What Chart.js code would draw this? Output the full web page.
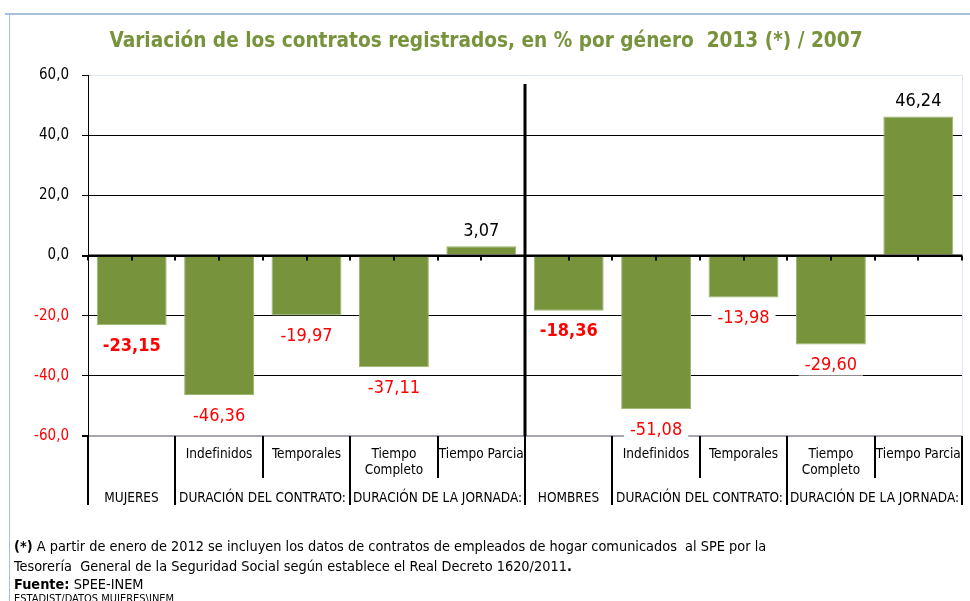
<!DOCTYPE html>
<html lang="es">
<head>
<meta charset="utf-8">
<title>Variación de los contratos registrados</title>
<script src="https://cdn.jsdelivr.net/npm/chart.js@4.4.1/dist/chart.umd.min.js"></script>
<style>
    html, body { margin: 0; padding: 0; background: #fff; }
    body {
        width: 970px; height: 601px; position: relative; overflow: hidden;
        font-family: 'DejaVu Sans Condensed', 'DejaVu Sans', sans-serif;
    }
    #topRule { position: absolute; left: 5px; right: 0; top: 13px; height: 2px; background: #A8BFDB; }
    #leftRule { position: absolute; left: 9px; top: 13px; bottom: 0; width: 1px; background: #A8BFDB; }
    #chart { position: absolute; left: 0; top: 0; }
    #notes { position: absolute; left: 14px; top: 536px; font-size: 14.4px; line-height: 20px; color: #000; white-space: nowrap; }
    #notes .src { line-height: 17px; }
    #notes .path { font-size: 11px; line-height: 12px; }
</style>
</head>
<body>
<div id="topRule"></div>
<div id="leftRule"></div>
<canvas id="chart" width="970" height="601"></canvas>
<div id="notes">
    <div><b>(*)</b> A partir de enero de 2012 se incluyen los datos de contratos de empleados de hogar comunicados&nbsp; al SPE por la</div>
    <div>Tesorería&nbsp; General de la Seguridad Social según establece el Real Decreto 1620/2011<b>.</b></div>
    <div class="src"><b>Fuente:</b> SPEE-INEM</div>
    <div class="path">ESTADIST/DATOS MUJERES\INEM</div>
</div>
<script>
// Contract variation 2013 vs 2007, by gender
const categories = ['MUJERES', 'Indefinidos', 'Temporales', 'Tiempo Completo', 'Tiempo Parcia',
                    'HOMBRES', 'Indefinidos', 'Temporales', 'Tiempo Completo', 'Tiempo Parcia'];
const subLabels = ['', 'Indefinidos', 'Temporales', ['Tiempo', 'Completo'], 'Tiempo Parcia',
                   '', 'Indefinidos', 'Temporales', ['Tiempo', 'Completo'], 'Tiempo Parcia'];
const groupNames = ['MUJERES', 'DURACIÓN DEL CONTRATO:', 'DURACIÓN DE LA JORNADA:',
                    'HOMBRES', 'DURACIÓN DEL CONTRATO:', 'DURACIÓN DE LA JORNADA:'];
const groupSpans = [1, 2, 2, 1, 2, 2];
const variation = [-23.15, -46.36, -19.97, -37.11, 3.07, -18.36, -51.08, -13.98, -29.60, 46.24];
const totalsIdx = [0, 5];
const yTicks = [-60, -40, -20, 0, 20, 40, 60];

const FONT = "'DejaVu Sans Condensed', 'DejaVu Sans', sans-serif";
const GREEN = '#77933C';
const RED = '#FF0000';

const fmt = (v, d) => v.toFixed(d).replace('.', ',');

const decorPlugin = {
    id: 'decor',
    afterDatasetsDraw(chart) {
        const { ctx, chartArea: a, scales: { x, y } } = chart;
        const y0 = y.getPixelForValue(0);
        ctx.save();

        // plot border on the right
        ctx.strokeStyle = '#DCE6F2';
        ctx.lineWidth = 1;
        ctx.beginPath();
        ctx.moveTo(a.right + 0.5, a.top);
        ctx.lineTo(a.right + 0.5, a.bottom);
        ctx.stroke();

        // zero axis with ticks at centers and boundaries
        ctx.strokeStyle = '#000';
        ctx.lineWidth = 2;
        ctx.beginPath();
        ctx.moveTo(a.left, y0);
        ctx.lineTo(a.right, y0);
        ctx.stroke();
        for (let k = 0; k <= categories.length * 2; k++) {
            const px = Math.round(x.getPixelForValue(k / 2 - 0.5));
            ctx.beginPath();
            ctx.moveTo(px, y0);
            ctx.lineTo(px, y0 + 5);
            ctx.stroke();
        }

        // value labels with white boxes
        const meta = chart.getDatasetMeta(0);
        ctx.textAlign = 'center';
        ctx.textBaseline = 'middle';
        meta.data.forEach((bar, i) => {
            const v = variation[i];
            const bold = totalsIdx.includes(i);
            ctx.font = (bold ? 'bold ' : '') + '18px ' + FONT;
            const txt = fmt(v, 2);
            const w = ctx.measureText(txt).width;
            const cy = v < 0 ? bar.y + 20 : bar.y - 16;
            ctx.fillStyle = '#fff';
            ctx.fillRect(bar.x - w / 2 - 6, cy - 11, w + 12, 22);
            ctx.fillStyle = v < 0 ? RED : '#000';
            ctx.fillText(txt, bar.x, cy + 1);
        });
        ctx.restore();
    },
    afterDraw(chart) {
        const { ctx, chartArea: a, scales: { x } } = chart;
        const n = categories.length;
        const edge = k => Math.round(x.getPixelForValue(k - 0.5));
        const groupEdges = [0];
        groupSpans.forEach(s => groupEdges.push(groupEdges[groupEdges.length - 1] + s));

        ctx.save();
        ctx.strokeStyle = '#000';
        for (let k = 0; k <= n; k++) {
            const px = edge(k);
            const long = groupEdges.includes(k);
            ctx.lineWidth = 2;
            ctx.beginPath();
            ctx.moveTo(px, a.bottom);
            ctx.lineTo(px, a.bottom + (long ? 69 : 42));
            ctx.stroke();
        }
        // gender separator across the plot
        const sep = edge(groupEdges[3]);
        ctx.lineWidth = 3;
        ctx.beginPath();
        ctx.moveTo(sep, a.top + 9);
        ctx.lineTo(sep, a.bottom);
        ctx.stroke();

        // first row: sub categories
        ctx.fillStyle = '#000';
        ctx.textAlign = 'center';
        ctx.textBaseline = 'middle';
        ctx.font = '13.5px ' + FONT;
        subLabels.forEach((lab, i) => {
            const cx = x.getPixelForValue(i);
            const lines = Array.isArray(lab) ? lab : [lab];
            lines.forEach((t, j) => ctx.fillText(t, cx, a.bottom + 18 + j * 16));
        });
        // second row: groups
        groupNames.forEach((g, j) => {
            const cx = (edge(groupEdges[j]) + edge(groupEdges[j + 1])) / 2;
            ctx.fillText(g, cx, a.bottom + 62);
        });
        ctx.restore();
    }
};

new Chart(document.getElementById('chart'), {
    type: 'bar',
    data: {
        labels: categories,
        datasets: [{
            data: variation,
            backgroundColor: GREEN,
            borderColor: '#9CB56C',
            borderWidth: 1,
            barPercentage: 0.8,
            categoryPercentage: 1
        }]
    },
    options: {
        responsive: false,
        animation: false,
        layout: { padding: { left: 10, right: 8, top: 0, bottom: 165 } },
        scales: {
            x: { display: false },
            y: {
                min: -60,
                max: 60,
                afterBuildTicks: s => { s.ticks = yTicks.map(v => ({ value: v })); },
                afterFit: s => { s.width = 78; },
                ticks: {
                    padding: 13,
                    color: c => c.tick.value < 0 ? RED : '#000',
                    font: { family: FONT, size: 15 },
                    callback: v => fmt(v, 1)
                },
                grid: {
                    tickLength: 6,
                    tickColor: '#000',
                    color: c => {
                        const v = c.tick.value;
                        if (v === 60) return '#DCE6F2';
                        if (v === -60) return '#A6A6AE';
                        return '#000';
                    },
                    lineWidth: c => (c.tick.value === 0 || c.tick.value === -60) ? 2 : 1
                },
                border: { color: '#000', width: 1 }
            }
        },
        plugins: {
            legend: { display: false },
            tooltip: { enabled: false },
            title: {
                display: true,
                text: 'Variación de los contratos registrados, en % por género  2013 (*) / 2007',
                color: GREEN,
                font: { family: FONT, size: 20.6, weight: 'bold' },
                padding: { top: 29, bottom: 21.28 }
            }
        }
    },
    plugins: [decorPlugin]
});
</script>
</body>
</html>
